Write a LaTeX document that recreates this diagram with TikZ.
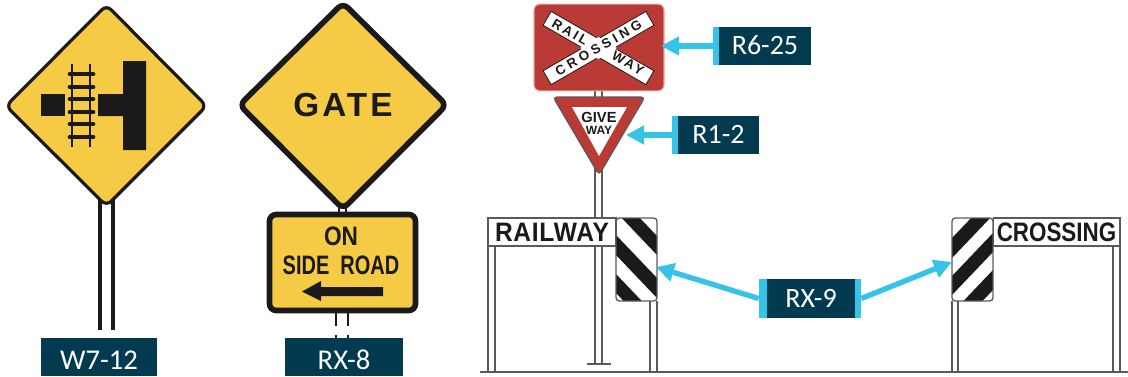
\documentclass[tikz,border=0pt]{standalone}
\usepackage{fontspec}
\usetikzlibrary{arrows.meta}
\newfontfamily\tagfont{Carlito}
\newfontfamily\signfont{Liberation Sans}
\definecolor{tagnavy}{HTML}{023B50}
\definecolor{tagcyan}{HTML}{36C3E8}
\definecolor{signyellow}{HTML}{F5CB45}
\definecolor{signink}{HTML}{1C1A18}
\definecolor{signred}{HTML}{BA3A35}
\definecolor{signpink}{HTML}{E8A8A4}
\definecolor{postgray}{HTML}{5A5A5A}
\begin{document}
\begin{tikzpicture}[
  x=0.75pt,y=-0.75pt,
  tagbox/.style={fill=tagnavy,text=white,inner sep=0pt,minimum height=28.5pt,
    font=\tagfont\fontsize{21}{25}\selectfont,text height=12.75pt,text depth=0pt},
  lowtag/.style={tagbox,font=\tagfont\fontsize{21.5}{25}\selectfont,text height=18pt},
  tagstrip/.style={fill=tagcyan,inner sep=0pt,minimum width=4.5pt,minimum height=28.5pt},
  pointer/.style={draw=tagcyan,line width=4pt,-{Triangle[length=13.5pt,width=13.5pt]}},
  post/.style={draw=postgray,line width=1pt},
  blackpost/.style={draw=signink,line width=2.6pt},
  signtext/.style={inner sep=0pt,text=signink},
  crossbar/.style={draw=signink,fill=white,line width=0.6pt,inner sep=0pt,
    minimum width=89pt,minimum height=12pt},
  crosstext/.style={signtext,font=\signfont\bfseries\fontsize{10}{12}\selectfont}
]

% ---- canvas ----
\useasboundingbox (0,0) rectangle (1128,376);

% ---- W7-12 ----
\draw[blackpost] (100,200) -- (100,330) (113,200) -- (113,330);
\draw[fill=signyellow,draw=signink,line width=2.4pt,rounded corners=5pt]
  (106.5,5) -- (206.5,106) -- (106.5,206) -- (6,106) -- cycle;
\fill[signink] (41,94) rectangle (65,116);
\fill[signink] (123,61) rectangle (146,150) (98,94) rectangle (123,116);
\draw[signink,line width=1.6pt] (72,64) -- (72,147) (90,64) -- (90,147);
\foreach \y in {74,87,99,112,124,137}{
  \draw[signink,line width=3.6pt,line cap=round] (70,\y) -- (93,\y);
}
\node[lowtag,minimum width=87pt] (w712) at (99,357) {W7-12};

% ---- RX-8 ----
\draw[blackpost,line width=1.8pt] (339,204) -- (339,214) (346,204) -- (346,214);
\draw[blackpost,line width=1.8pt] (336,311) -- (336,326) (336,335) -- (336,339);
\draw[blackpost,line width=1.8pt] (348,311) -- (348,326) (348,335) -- (348,339);
\draw[fill=signyellow,draw=signink,line width=4.2pt,rounded corners=5pt]
  (343,3) -- (446.5,105) -- (343,209) -- (239.5,105) -- cycle;
\node[signtext,font=\signfont\bfseries\fontsize{25}{30}\selectfont\addfontfeature{LetterSpace=9}]
  (gate) at (343,105) {GATE};
\draw[fill=signyellow,draw=signink,line width=4.2pt,rounded corners=5pt]
  (269.5,214.5) rectangle (415.5,310.5);
\node[signtext,font=\signfont\fontsize{20}{24}\selectfont\bfseries] (on) at (341,236.5)
  {\scalebox{.85}[1]{ON}};
\node[signtext,font=\signfont\fontsize{20}{24}\selectfont\bfseries] (sideroad) at (341,265.5)
  {\scalebox{.75}[1]{SIDE\ \ ROAD}};
\fill[signink] (302,291.5) -- (321,281) -- (321,287) -- (383,287) -- (383,296)
  -- (321,296) -- (321,301) -- cycle;
\node[lowtag,minimum width=88.5pt] (rx8) at (344,357) {RX-8};

% ---- main post and ground ----
\draw[post,line width=1.1pt] (595,88) -- (595,364) (602,88) -- (602,364);
\draw[post] (587,364) -- (611,364);
\draw[post,line width=1.2pt] (480,372) -- (1128,372);

% ---- R6-25 ----
\node[draw=signpink,fill=signred,line width=0.8pt,rounded corners=4.5pt,inner sep=0pt,
  minimum width=97.5pt,minimum height=65pt] (r625sign) at (599,47.5) {};
\node[crossbar,rotate=30] (barone) at (598.5,48) {};
\node[crossbar,rotate=-30] (bartwo) at (598.5,48) {};
\fill[white] (598.5,37) -- (617,48) -- (598.5,59) -- (580,48) -- cycle;
\node[crosstext,rotate=-30] (rail) at (570,32) {\addfontfeature{LetterSpace=20}RAIL};
\node[crosstext,rotate=-30] (way) at (628,63) {\addfontfeature{LetterSpace=20}WAY};
\node[crosstext,rotate=30] (crossing) at (598.5,48) {\addfontfeature{LetterSpace=28}CROSSING};

% ---- R1-2 ----
\draw[fill=signred,draw=postgray,line width=0.9pt,rounded corners=3pt]
  (553,97) -- (645,97) -- (599,175) -- cycle;
\fill[white] (572,107) -- (627,107) -- (599,156) -- cycle;
\node[signtext,font=\signfont\bfseries\fontsize{11}{13}\selectfont] (give) at (599,117) {GIVE};
\node[signtext,font=\signfont\bfseries\fontsize{9}{11}\selectfont] (giveway) at (599,130) {WAY};

% ---- RAILWAY board ----
\draw[post] (488,246) -- (488,372) (495,246) -- (495,372);
\draw[post] (650,301) -- (650,372) (657,301) -- (657,372);
\node[draw=postgray,fill=white,line width=1pt,inner sep=0pt,minimum width=96pt,minimum height=21pt,
  signtext,font=\signfont\bfseries\fontsize{20}{24}\selectfont] (railway) at (552,232)
  {\scalebox{.92}[1]{\addfontfeature{LetterSpace=3}RAILWAY}};
\begin{scope}
  \clip[rounded corners=2.5pt] (616,218) rectangle (657,301);
  \foreach \c/\d in {-25/-6,17/37,56/75}{
    \fill[signink] (616,218+\c) -- (616,218+\d) -- (657,218+\d+43) -- (657,218+\c+43) -- cycle;
  }
\end{scope}
\draw[post,rounded corners=2.5pt] (616,218) rectangle (657,301);

% ---- CROSSING board ----
\draw[post] (952,301) -- (952,372) (958,301) -- (958,372);
\draw[post,line width=1.2pt] (1113,246) -- (1113,372) (1120,246) -- (1120,372);
\node[draw=postgray,fill=white,line width=1pt,inner sep=0pt,minimum width=95pt,minimum height=21pt,
  signtext,font=\signfont\bfseries\fontsize{20}{24}\selectfont] (crossingboard) at (1056.5,232)
  {\scalebox{.84}[1]{CROSSING}};
\begin{scope}
  \clip[rounded corners=2.5pt] (952,218) rectangle (993,301);
  \foreach \c/\d in {20/40,58/77,95/115}{
    \fill[signink] (952,218+\c) -- (952,218+\d) -- (993,218+\d-43) -- (993,218+\c-43) -- cycle;
  }
\end{scope}
\draw[post,rounded corners=2.5pt] (952,218) rectangle (993,301);

% ---- tags and pointers ----
\coordinate (r625tip) at (661,46);
\coordinate (r12tip) at (626,135);
\coordinate (leftboardtip) at (656,267);
\coordinate (rightboardtip) at (952,262);

\node[tagstrip] (r625strip) at (716,46) {};
\node[tagbox,minimum width=69pt] (r625) at (765,46) {R6-25\hspace{7.5pt}};
\draw[pointer] (r625strip.west) -- (r625tip);

\node[tagstrip] (r12strip) at (675,135) {};
\node[tagbox,minimum width=60.75pt] (r12) at (718.5,135) {R1-2\hspace{9pt}};
\draw[pointer] (r12strip.west) -- (r12tip);

\node[tagstrip,minimum width=6pt,minimum height=29pt] (rx9left) at (763,298.5) {};
\node[tagstrip,minimum height=29pt] (rx9right) at (858,298.5) {};
\node[tagbox,minimum width=66pt,minimum height=29pt] (rx9) at (811,298.5) {RX-9\hspace{7.5pt}};
\draw[pointer] (rx9left.west) -- (leftboardtip);
\draw[pointer] (rx9right.east) -- (rightboardtip);

\end{tikzpicture}
\end{document}
